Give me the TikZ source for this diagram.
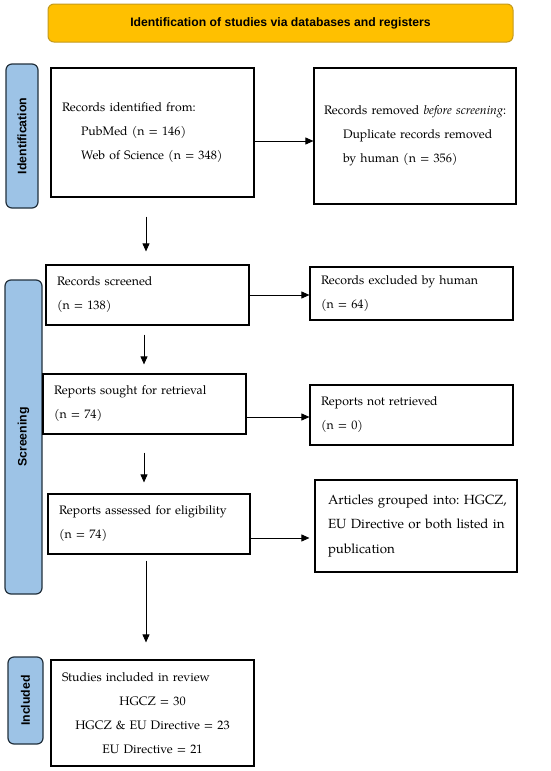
\documentclass[tikz,border=0pt]{standalone}
\usepackage{fontspec}
\newfontfamily\lsans{Liberation Sans}
\newfontfamily\pala{texgyrepagella}[Extension=.otf, UprightFont=*-regular, ItalicFont=*-italic, BoldFont=*-bold]
\usetikzlibrary{arrows.meta,calc}
\definecolor{goldfill}{HTML}{FFC000}
\definecolor{goldline}{HTML}{C49A1C}
\definecolor{sidefill}{HTML}{9DC3E6}
\definecolor{sideline}{HTML}{22303C}
\tikzset{
  box/.style={draw, line width=1.2pt, inner xsep=11pt, inner ysep=0pt, align=left,
    font=\pala\frenchspacing\fontsize{12.3}{24}\selectfont},
  arr/.style={line width=0.9pt, -{Triangle[length=8pt,width=7pt]}},
  side/.style={draw=sideline, fill=sidefill, rounded corners=6pt, line width=1.2pt,
    rotate=90, inner sep=0pt, font=\lsans\bfseries\fontsize{12.3}{14}\selectfont},
  banner/.style={draw=goldline, fill=goldfill, rounded corners=6pt, line width=1pt,
    font=\lsans\bfseries\fontsize{12.2}{14}\selectfont}
}
\begin{document}
\begin{tikzpicture}[x=1pt,y=-1pt]
\useasboundingbox (0,0) rectangle (550,771);
% banner
\node[banner, minimum width=465pt, minimum height=38pt] (ban) at (280.5,23) {Identification of studies via databases and registers};
% side labels
\node[side, minimum width=144pt, minimum height=32pt] (sid) at (22,136) {Identification};
\node[side, minimum width=314pt, minimum height=37pt] (ssc) at (23.5,437) {Screening};
\node[side, minimum width=87pt, minimum height=35pt] (sin) at (25.5,700.5) {Included};
% boxes
\node[box, text width=181pt, minimum height=129pt] (b1) at (152.5,132.5)
  {Records identified from:\\ \hspace*{19pt}PubMed (n = 146)\\ \hspace*{19pt}Web of Science (n = 348)};
\node[box, inner xsep=10pt, text width=182pt, minimum height=136pt] (b2) at (415,136)
  {\mbox{Records removed \textit{before screening}:}\\ \hspace*{19pt}Duplicate records removed\\ \hspace*{19pt}by human (n = 356)};
\node[box, text width=181pt, minimum height=60pt] (b3) at (147.5,295)
  {Records screened\\ (n = 138)};
\node[box, text width=181pt, minimum height=53pt] (b4) at (411.5,293.5)
  {Records excluded by human\\ (n = 64)};
\node[box, text width=181pt, minimum height=60pt] (b5) at (144.5,404)
  {Reports sought for retrieval\\ (n = 74)};
\node[box, text width=181pt, minimum height=60pt] (b6) at (411.5,415)
  {Reports not retrieved\\ (n = 0)};
\node[box, text width=180pt, minimum height=60pt] (b7) at (149,524)
  {Reports assessed for eligibility\\ (n = 74)};
\node[box, inner xsep=13pt, text width=176pt, minimum height=92pt,
  font=\pala\frenchspacing\fontsize{13.3}{24.5}\selectfont] (b8) at (416,526)
  {\mbox{Articles grouped into: HGCZ,}\\ \mbox{EU Directive or both listed in}\\ publication};
\node[box, align=center, text width=181pt, minimum height=106pt] (b9) at (152.5,713)
  {\makebox[181pt][l]{Studies included in review}\\ HGCZ = 30\\ HGCZ \& EU Directive = 23\\ EU Directive = 21};
% horizontal arrows
\draw[arr] ([yshift=-8.5pt]b1.east) -- ([yshift=-5pt]b2.west);
\draw[arr] (b3.east) -- (b3.east -| b4.west);
\draw[arr] ([yshift=-13pt]b5.east) coordinate (a5) -- (a5 -| b6.west);
\draw[arr, shorten >=5pt] ([yshift=-14pt]b7.east) coordinate (a7) -- (a7 -| b8.west);
% vertical arrows
\draw[arr, shorten <=19pt, shorten >=13pt] ([xshift=-6.5pt]b1.south) coordinate (v1) -- (v1 |- b3.north);
\draw[arr, shorten <=9pt, shorten >=9pt] ([xshift=-3.5pt]b3.south) coordinate (v3) -- (v3 |- b5.north);
\draw[arr, shorten <=18pt, shorten >=11pt] ([xshift=-0.5pt]b5.south) coordinate (v5) -- (v5 |- b7.north);
\draw[arr, shorten <=6pt, shorten >=17pt] ([xshift=-3pt]b7.south) coordinate (v7) -- (v7 |- b9.north);
\end{tikzpicture}
\end{document}
